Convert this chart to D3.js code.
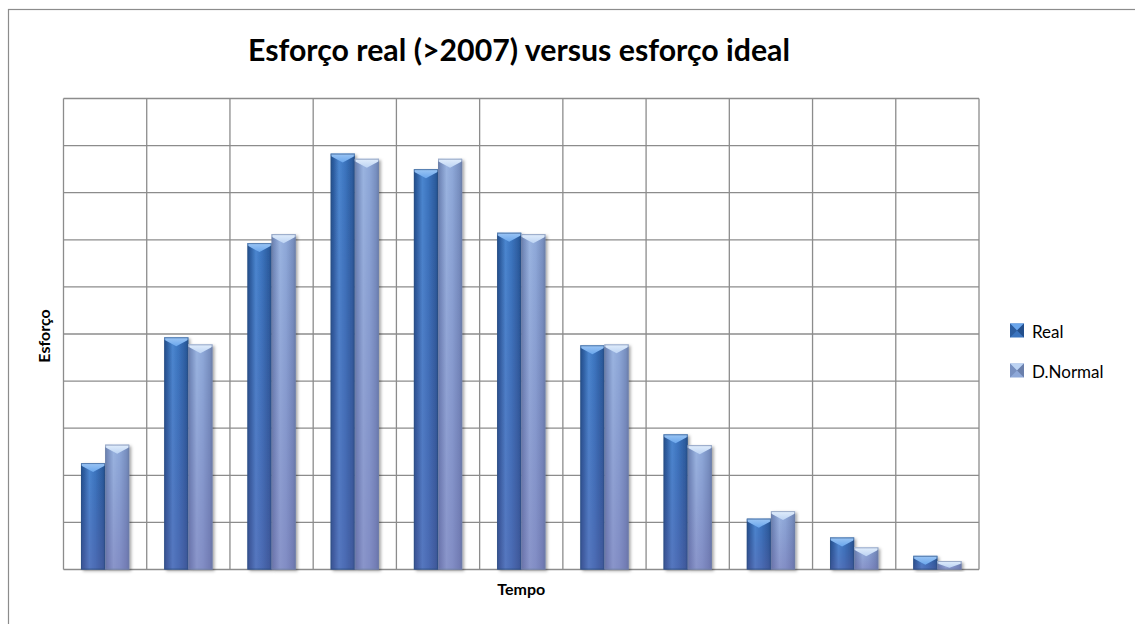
<!DOCTYPE html>
<html>
<head>
<meta charset="utf-8">
<script src="https://cdn.jsdelivr.net/npm/d3@7"></script>
<style>
  body { margin: 0; background: #fff; }
  svg { display: block; font-family: Lato, "Open Sans", sans-serif; }
</style>
</head>
<body>
<svg id="chart" width="1135" height="624"></svg>
<script>
// Effort per time period: actual effort vs. the normal-distribution ideal
const categories = ["1", "2", "3", "4", "5", "6", "7", "8", "9", "10", "11"];
const seriesNames = ["Real", "D.Normal"];
const realValues = [2.26, 4.93, 6.93, 8.83, 8.50, 7.15, 4.76, 2.87, 1.08, 0.68, 0.29];
const normalValues = [2.65, 4.78, 7.12, 8.72, 8.72, 7.12, 4.78, 2.64, 1.24, 0.47, 0.18];
const yTicks = [0, 1, 2, 3, 4, 5, 6, 7, 8, 9, 10];

const titleText = "Esforço real (>2007) versus esforço ideal";
const xTitle = "Tempo";
const yTitle = "Esforço";

const svg = d3.select("#chart");
const W = 1135, H = 624;
const plot = { left: 63.5, right: 979, top: 98.5, bottom: 569.5 };

const seriesValues = [realValues, normalValues];
const rows = categories.map((c, i) => ({
  cat: c,
  vals: seriesNames.map((s, k) => ({ series: s, k, v: seriesValues[k][i] }))
}));

// Colour schemes for the two series (edge / body / highlight)
const palette = [
  { edge: "#234f8c", dark: "#2c5d9f", body: "#3b74be", light: "#4a86cf", top: "#6aa6ec", topLight: "#9cc6f5", stroke: "#2a4e80" },
  { edge: "#6a7fab", dark: "#7890c0", body: "#8ea8d8", light: "#9ab4e0", top: "#bcd3f3", topLight: "#e2eefc", stroke: "#6f82a8" }
];

const defs = svg.append("defs");
palette.forEach((p, k) => {
  const g = defs.append("linearGradient").attr("id", "body" + k)
    .attr("x1", "0").attr("x2", "1").attr("y1", "0").attr("y2", "0");
  [[0, p.edge], [0.12, p.dark], [0.35, p.light], [0.6, p.body], [0.88, p.dark], [1, p.edge]]
    .forEach(([o, c]) => g.append("stop").attr("offset", o).attr("stop-color", c));
  const t = defs.append("linearGradient").attr("id", "top" + k)
    .attr("x1", "0").attr("x2", "0").attr("y1", "0").attr("y2", "1");
  [[0, p.topLight], [1, p.top]].forEach(([o, c]) => t.append("stop").attr("offset", o).attr("stop-color", c));
  const b = defs.append("linearGradient").attr("id", "foot" + k)
    .attr("x1", "0").attr("x2", "0").attr("y1", "0").attr("y2", "1");
  [[0, "#5a4f9a", 0], [1, "#6a5aa0", 0.35]].forEach(([o, c, a]) =>
    b.append("stop").attr("offset", o).attr("stop-color", c).attr("stop-opacity", a));
});
const shadow = defs.append("filter").attr("id", "shadow")
  .attr("x", "-20%").attr("y", "-10%").attr("width", "150%").attr("height", "130%");
shadow.append("feDropShadow").attr("dx", 2).attr("dy", 1.5).attr("stdDeviation", 1.6)
  .attr("flood-color", "#000").attr("flood-opacity", 0.35);

// Outer chart border (runs off the right and bottom edges)
svg.append("rect").attr("x", 8.5).attr("y", 9.5).attr("width", W).attr("height", H)
  .attr("fill", "#fff").attr("stroke", "#8c8c8c").attr("stroke-width", 1.2);

// Scales
const pad = 0.42;
const x0 = d3.scaleBand().domain(categories).range([plot.left, plot.right])
  .paddingInner(pad).paddingOuter(pad / 2);
const x1 = d3.scaleBand().domain(seriesNames).range([0, x0.bandwidth()]);
const y = d3.scaleLinear().domain([0, 10]).range([plot.bottom, plot.top]);

// Gridlines
const grid = svg.append("g").attr("stroke", "#8c8c8c").attr("stroke-width", 1.3);
grid.selectAll("line.h").data(yTicks).join("line").attr("class", "h")
  .attr("x1", plot.left).attr("x2", plot.right)
  .attr("y1", d => y(d)).attr("y2", d => y(d));
const boundaries = categories.map(c => x0(c) - (x0.step() - x0.bandwidth()) / 2)
  .concat([plot.right]);
grid.selectAll("line.v").data(boundaries).join("line").attr("class", "v")
  .attr("x1", d => d).attr("x2", d => d)
  .attr("y1", plot.top).attr("y2", plot.bottom);

// Bars with bevelled tops
const groups = svg.append("g").selectAll("g").data(rows).join("g")
  .attr("transform", d => `translate(${x0(d.cat)},0)`);
const bars = groups.selectAll("g.bar").data(d => d.vals).join("g").attr("class", "bar");
bars.each(function (d) {
  const g = d3.select(this);
  const bx = x1(d.series), bw = x1.bandwidth();
  const top = y(d.v), h = y(0) - y(d.v);
  g.append("rect").attr("x", bx).attr("y", top).attr("width", bw).attr("height", h)
    .attr("fill", `url(#body${d.k})`).attr("filter", "url(#shadow)");
  g.append("rect").attr("x", bx).attr("y", top).attr("width", bw).attr("height", h)
    .attr("fill", `url(#foot${d.k})`);
  const depth = Math.min(9, h * 0.8), side = Math.min(2.5, h * 0.3);
  g.append("polygon")
    .attr("points", [[bx, top], [bx + bw, top], [bx + bw, top + side],
      [bx + bw / 2, top + depth], [bx, top + side]].map(p => p.join(",")).join(" "))
    .attr("fill", `url(#top${d.k})`);
  g.append("rect").attr("x", bx + 0.5).attr("y", top + 0.5).attr("width", bw - 1).attr("height", h - 1)
    .attr("fill", "none").attr("stroke", palette[d.k].stroke).attr("stroke-opacity", 0.6);
});

// Title
svg.append("text").attr("x", 519).attr("y", 61).attr("text-anchor", "middle")
  .attr("font-size", 31).attr("font-weight", "bold").attr("fill", "#000")
  .attr("textLength", 542).attr("lengthAdjust", "spacingAndGlyphs")
  .text(titleText);

// Axis titles
svg.append("text").attr("x", (plot.left + plot.right) / 2).attr("y", 595)
  .attr("text-anchor", "middle").attr("font-size", 16).attr("font-weight", "bold")
  .text(xTitle);
svg.append("text").attr("transform", `translate(50,${336}) rotate(-90)`)
  .attr("text-anchor", "middle").attr("font-size", 16).attr("font-weight", "bold")
  .text(yTitle);

// Legend
const legend = svg.append("g").selectAll("g").data(seriesNames).join("g")
  .attr("transform", (d, i) => `translate(1010,${323.5 + i * 40})`);
legend.each(function (d, i) {
  const g = d3.select(this), s = 14, p = palette[i];
  g.append("rect").attr("width", s).attr("height", s).attr("fill", p.body);
  g.append("polygon").attr("points", `0,0 ${s},0 ${s / 2},${s / 2}`).attr("fill", p.top);
  g.append("polygon").attr("points", `0,0 ${s / 2},${s / 2} 0,${s}`).attr("fill", p.dark);
  g.append("polygon").attr("points", `${s},0 ${s / 2},${s / 2} ${s},${s}`).attr("fill", p.edge);
  g.append("text").attr("x", 22).attr("y", 14.5).attr("font-size", 17).attr("fill", "#000").text(d);
});
</script>
</body>
</html>
